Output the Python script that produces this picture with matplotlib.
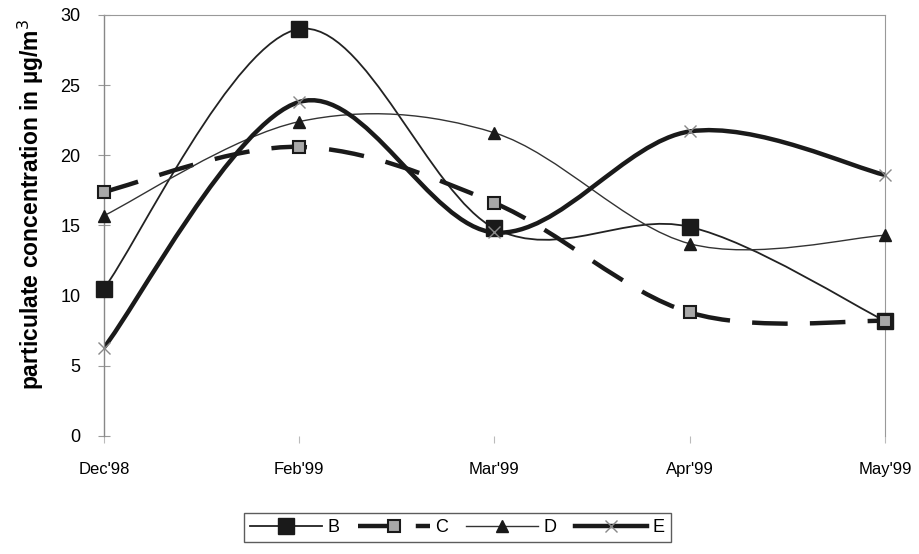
import matplotlib
matplotlib.use("Agg")
import matplotlib.pyplot as plt
from matplotlib.path import Path
from matplotlib.patches import PathPatch
from matplotlib.lines import Line2D

plt.rcParams['font.family'] = ['Liberation Sans', 'DejaVu Sans']

months = ["Dec'98", "Feb'99", "Mar'99", "Apr'99", "May'99"]
B = [10.5, 29.0, 14.8, 14.9, 8.2]
C = [17.4, 20.6, 16.6, 8.8, 8.2]
D = [15.7, 22.4, 21.6, 13.7, 14.3]
E = [6.3, 23.8, 14.5, 21.7, 18.6]


def smooth_path(xs, ys):
    n = len(xs)
    verts = [(xs[0], ys[0])]
    codes = [Path.MOVETO]
    for i in range(n - 1):
        i0 = max(i - 1, 0)
        i3 = min(i + 2, n - 1)
        c1 = (xs[i] + (xs[i + 1] - xs[i0]) / 6.0, ys[i] + (ys[i + 1] - ys[i0]) / 6.0)
        c2 = (xs[i + 1] - (xs[i3] - xs[i]) / 6.0, ys[i + 1] - (ys[i3] - ys[i]) / 6.0)
        verts += [c1, c2, (xs[i + 1], ys[i + 1])]
        codes += [Path.CURVE4] * 3
    return Path(verts, codes)


fig = plt.figure(figsize=(9.2, 5.54), dpi=100)
ax = fig.add_axes([0.113, 0.213, 0.849, 0.76])

x = list(range(len(months)))

styles = {
    'B': dict(data=B, lw=1.3, color='#222222', ls='-', marker='s', ms=11, mfc='#1a1a1a', mec='#1a1a1a', mew=1),
    'C': dict(data=C, lw=3.2, color='#1a1a1a', ls=(0, (8, 5)), marker='s', ms=8, mfc='#a8a8a8', mec='#1a1a1a', mew=1.5),
    'D': dict(data=D, lw=1.0, color='#333333', ls='-', marker='^', ms=9, mfc='#1a1a1a', mec='#1a1a1a', mew=1),
    'E': dict(data=E, lw=3.2, color='#1a1a1a', ls='-', marker='x', ms=9, mfc='none', mec='#888888', mew=1),
}

handles = []
for name, s in styles.items():
    p = smooth_path(x, s['data'])
    patch = PathPatch(p, facecolor='none', edgecolor=s['color'], lw=s['lw'],
                      linestyle=s['ls'], zorder=2, capstyle='butt')
    ax.add_patch(patch)
    ax.plot(x, s['data'], ls='none', marker=s['marker'], ms=s['ms'], mfc=s['mfc'],
            mec=s['mec'], mew=s['mew'], zorder=3, clip_on=False)
    handles.append(Line2D([0], [0], color=s['color'], lw=s['lw'], ls=s['ls'],
                          marker=s['marker'], ms=s['ms'], mfc=s['mfc'], mec=s['mec'], mew=s['mew']))

ax.set_xlim(0, 4)
ax.set_ylim(0, 30)
ax.set_xticks(x)
ax.set_xticklabels(months, fontsize=12)
ax.set_yticks([0, 5, 10, 15, 20, 25, 30])
ax.tick_params(axis='y', labelsize=13, direction='inout', length=8, color='#999999', pad=13)
ax.tick_params(axis='x', direction='out', length=5, color='#bbbbbb', pad=14)

for sp in ['top', 'right']:
    ax.spines[sp].set_color('#999999')
    ax.spines[sp].set_linewidth(0.8)
ax.spines['left'].set_color('#888888')
ax.spines['left'].set_linewidth(1.0)
ax.spines['bottom'].set_visible(False)

ax.set_ylabel('particulate concentration in µg/m$^3$', fontsize=16.5, fontweight='bold')
ax.yaxis.set_label_coords(-0.074, 0.55)

leg = fig.legend(handles, ['B', 'C', 'D', 'E'], loc='center', bbox_to_anchor=(0.497, 0.048),
                 ncol=4, frameon=True, fancybox=False, fontsize=13, handlelength=4.0,
                 columnspacing=1.0, handletextpad=0.3, borderpad=0.35)
leg.get_frame().set_edgecolor('#333333')
leg.get_frame().set_linewidth(1.0)

fig.savefig('out.png', dpi=100, facecolor='white')
